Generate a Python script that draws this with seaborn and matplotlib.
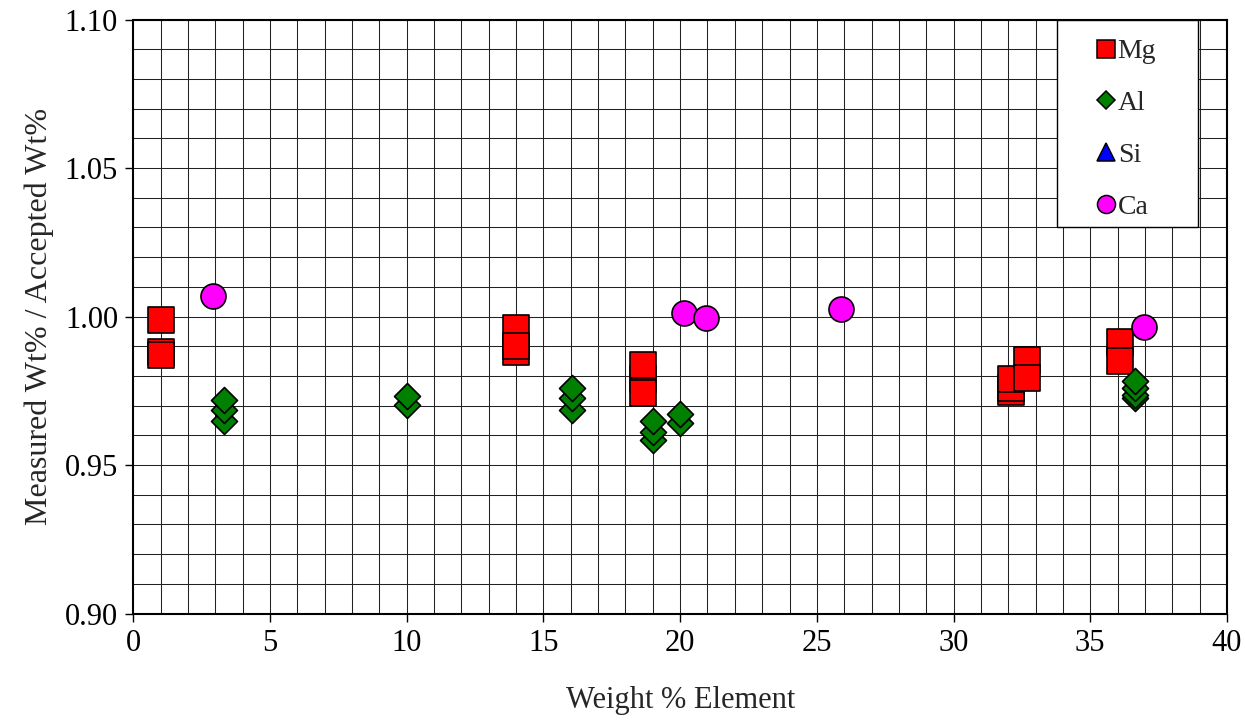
import numpy as np
import pandas as pd
import matplotlib
matplotlib.use("Agg")
import matplotlib.pyplot as plt
from matplotlib.lines import Line2D
from matplotlib.patches import Rectangle
import seaborn as sns

# data
mg_x = [1.0, 1.0, 1.0, 14.0, 14.0, 14.0, 18.63, 18.63, 18.63, 32.1, 32.1, 32.1, 32.67, 32.67, 36.1, 36.1]
mg_y = [0.999, 0.988, 0.987, 0.988, 0.996, 0.990, 0.979, 0.9837, 0.9742, 0.9747, 0.9758, 0.979, 0.9853, 0.9792, 0.9916, 0.985]

al_x = [3.31, 3.31, 3.31, 10.0, 10.0, 16.05, 16.05, 16.05, 19.01, 19.01, 19.01, 20.01, 20.01,
        36.63, 36.63, 36.63, 36.63]
al_y = [0.9649, 0.9686, 0.972, 0.9701, 0.9731, 0.9684, 0.9726, 0.9759, 0.9585, 0.9613, 0.9647, 0.9641, 0.9673,
        0.9726, 0.9737, 0.9759, 0.9784]

si_x = []
si_y = []

ca_x = [2.92, 20.13, 20.96, 25.87, 36.98]
ca_y = [1.0069, 1.0012, 0.9996, 1.0024, 0.9965]

x_ticks = [0, 5, 10, 15, 20, 25, 30, 35, 40]
y_ticks = [0.90, 0.95, 1.00, 1.05, 1.10]

sns.set_style("white")
plt.rcParams['font.family'] = ['Liberation Serif', 'DejaVu Serif']

fig = plt.figure(figsize=(12.45, 7.25), dpi=100)
ax = fig.add_axes([0.1071, 0.1537, 0.8784, 0.8193])

# fine grid: every 1 wt% and every 0.01
for gx in np.arange(1, 40):
    ax.axvline(gx, color='#222222', lw=0.75, zorder=0)
for gy in np.arange(0.91, 1.10, 0.01):
    ax.axhline(gy, color='#222222', lw=0.75, zorder=0)

series = [
    ("Mg", mg_x, mg_y, 's', '#FF0000', 350),
    ("Al", al_x, al_y, 'D', '#008000', 175),
    ("Si", si_x, si_y, '^', '#0000FF', 300),
    ("Ca", ca_x, ca_y, 'o', '#FF00FF', 324),
]

for name, xs, ys, mk, col, size in series:
    if len(xs) == 0:
        continue
    df = pd.DataFrame({'x': xs, 'y': ys})
    sns.scatterplot(data=df, x='x', y='y', marker=mk, color=col, s=size,
                    edgecolor='black', linewidth=1.2, ax=ax, zorder=3, legend=False)

ax.set_xlim(0, 40)
ax.set_ylim(0.90, 1.10)
ax.set_xticks(x_ticks)
ax.set_yticks(y_ticks)
ax.set_xticklabels([str(t) for t in x_ticks])
ax.set_yticklabels(["%.2f" % t for t in y_ticks])
ax.tick_params(axis='both', direction='out', length=6, width=1, colors='black',
               labelsize=22, pad=5, bottom=True, left=True)

for sp in ax.spines.values():
    sp.set_color('black')
    sp.set_linewidth(1.5)

ax.set_xlabel("Weight % Element", fontsize=22, labelpad=20)
ax.set_ylabel("Measured Wt% / Accepted Wt%", fontsize=23, labelpad=8)

# legend box (white, black edge) drawn as a patch
box = Rectangle((0.8448, 0.6513), 0.9735 - 0.8448, 1 - 0.6513, transform=ax.transAxes,
                facecolor='white', edgecolor='black', lw=1.0, zorder=5)
ax.add_patch(box)

handles = [
    Line2D([], [], marker='s', color='none', markerfacecolor='#FF0000', markeredgecolor='black',
           markersize=13, markeredgewidth=1.1, label='Mg'),
    Line2D([], [], marker='D', color='none', markerfacecolor='#008000', markeredgecolor='black',
           markersize=9.2, markeredgewidth=1.1, label='Al'),
    Line2D([], [], marker='^', color='none', markerfacecolor='#0000FF', markeredgecolor='black',
           markersize=13, markeredgewidth=1.1, label='Si'),
    Line2D([], [], marker='o', color='none', markerfacecolor='#FF00FF', markeredgecolor='black',
           markersize=13, markeredgewidth=1.1, label='Ca'),
]
leg = ax.legend(handles=handles, loc='upper left', bbox_to_anchor=(0.881, 0.9676),
                fontsize=20, frameon=False, borderpad=0, labelspacing=0.95,
                handlelength=0.65, handletextpad=0.1, borderaxespad=0)
leg.set_zorder(6)

fig.savefig("out.png", dpi=100)
